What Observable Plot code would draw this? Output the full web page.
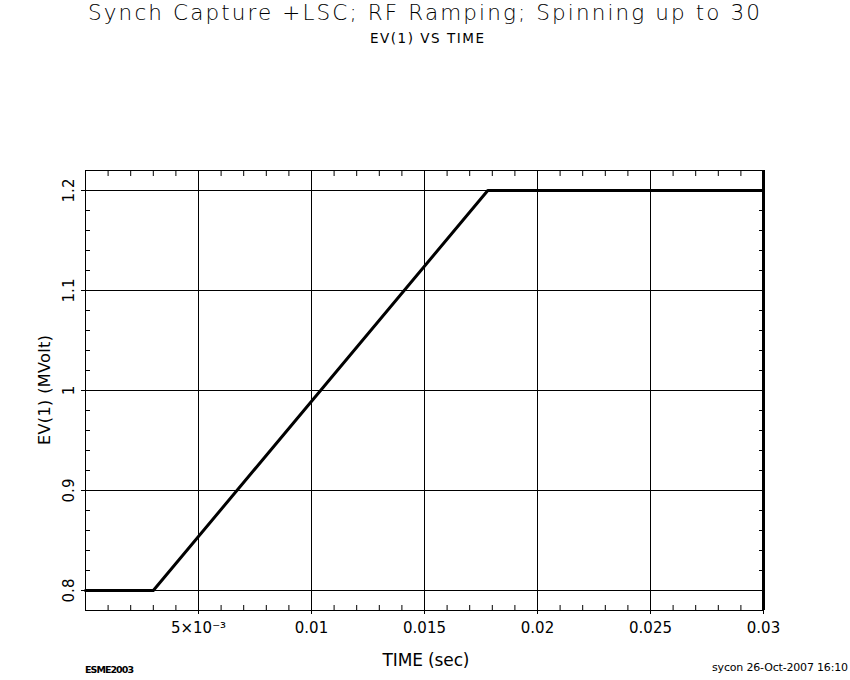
<!DOCTYPE html>
<html><head><meta charset="utf-8">
<script src="https://cdn.jsdelivr.net/npm/d3@7"></script>
<script src="https://cdn.jsdelivr.net/npm/@observablehq/plot@0.6"></script>
<style>
body{margin:0;background:#fff;}
#wrap{width:850px;height:680px;}
</style></head><body><div id="wrap"></div>
<script>
// ---- data ----
const timeSec = [0, 0.003, 0.0178, 0.03];
const evMVolt = [0.8, 0.8, 1.2, 1.2];
const xDomain = [0, 0.03];
const yDomain = [0.78, 1.22];
const xMajorTicks = [0.005, 0.01, 0.015, 0.02, 0.025, 0.03];
const xTickLabels = ["5×10⁻³", "0.01", "0.015", "0.02", "0.025", "0.03"];
const yMajorTicks = [0.8, 0.9, 1.0, 1.1, 1.2];
const yTickLabels = ["0.8", "0.9", "1", "1.1", "1.2"];
const xMinorTicks = [0.001,0.002,0.003,0.004,0.006,0.007,0.008,0.009,0.011,0.012,0.013,0.014,
  0.016,0.017,0.018,0.019,0.021,0.022,0.023,0.024,0.026,0.027,0.028,0.029];
const yMinorTicks = [0.82,0.84,0.86,0.88,0.92,0.94,0.96,0.98,1.02,1.04,1.06,1.08,1.12,1.14,1.16,1.18];
const titleText = "Synch Capture +LSC; RF Ramping; Spinning up to 30";
const subtitleText = "EV(1) VS TIME";
const xLabel = "TIME (sec)";
const yLabel = "EV(1) (MVolt)";
const footLeft = "ESME2003";
const footRight = "sycon 26-Oct-2007 16:10";

const data = timeSec.map((t, i) => ({t, v: evMVolt[i]}));
const fmtX = d => xTickLabels[xMajorTicks.indexOf(d)];
const fmtY = d => yTickLabels[yMajorTicks.findIndex(v => Math.abs(v - d) < 1e-9)];

const plot = Plot.plot({
  width: 850, height: 680,
  marginLeft: 85, marginRight: 87, marginTop: 170, marginBottom: 70,
  x: {domain: xDomain},
  y: {domain: yDomain},
  style: {fontFamily: "DejaVu Sans", fontSize: "15px", color: "black", background: "white"},
  marks: [
    Plot.gridX(xMajorTicks, {stroke: "black", strokeOpacity: 1, strokeWidth: 1}),
    Plot.gridY(yMajorTicks, {stroke: "black", strokeOpacity: 1, strokeWidth: 1}),
    Plot.axisX(xMinorTicks, {anchor: "bottom", tickSize: -5, text: null, label: null}),
    Plot.axisX(xMinorTicks, {anchor: "top", tickSize: -5, text: null, label: null}),
    Plot.axisY(yMinorTicks, {anchor: "left", tickSize: -5, text: null, label: null}),
    Plot.axisY(yMinorTicks, {anchor: "right", tickSize: -5, text: null, label: null}),
    Plot.axisX(xMajorTicks, {anchor: "bottom", tickSize: 4, tickPadding: 8, tickFormat: fmtX, label: null}),
    Plot.axisY(yMajorTicks, {anchor: "left", tickSize: 4, tickPadding: 8, tickRotate: -90, tickFormat: fmtY, label: null}),
    Plot.frame({stroke: "black", strokeWidth: 1}),
    Plot.ruleX([xDomain[1]], {stroke: "black", strokeWidth: 3}),
    Plot.line(data, {x: "t", y: "v", stroke: "black", strokeWidth: 3})
  ]
});
document.getElementById("wrap").appendChild(plot);

// extra text (titles, axis labels, footers)
const svg = d3.select(plot);
function addText(str, x, y, opts) {
  const t = svg.append("text")
    .attr("x", x).attr("y", y)
    .attr("text-anchor", opts.anchor || "middle")
    .attr("font-family", opts.family || "DejaVu Sans")
    .attr("font-size", opts.size)
    .attr("font-weight", opts.weight || "normal")
    .attr("fill", "black")
    .text(str);
  if (opts.len) t.attr("textLength", opts.len).attr("lengthAdjust", "spacing");
  if (opts.rotate) t.attr("transform", `rotate(${opts.rotate} ${x} ${y})`);
  return t;
}
addText(titleText, 424, 20, {size: 21.5, len: 672, weight: 200});
addText(subtitleText, 427, 43, {size: 13.5, len: 114});
addText(xLabel, 426, 666, {size: 17, len: 87});
addText(yLabel, 50, 390, {size: 16, len: 110, rotate: -90});
addText(footLeft, 85, 673, {size: 9.5, len: 49, anchor: "start", weight: "bold"});
addText(footRight, 848, 671, {size: 11, len: 136, anchor: "end"});
</script>
</body></html>
